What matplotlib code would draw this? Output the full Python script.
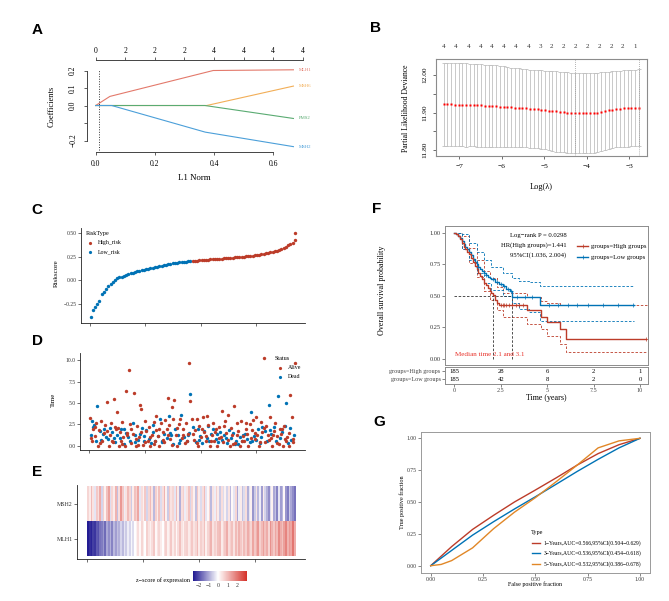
import numpy as np
import matplotlib
matplotlib.use('Agg')
import matplotlib.pyplot as plt
from matplotlib.colors import LinearSegmentedColormap, Normalize
from matplotlib.lines import Line2D

plt.rcParams['font.family'] = ['Liberation Serif', 'DejaVu Serif']

W, H = 669, 601
RED, BLUE, ORANGE = '#BC3C29', '#0072B5', '#E18727'

# ---------------- A: lasso coefficient paths
genes_A = ['MLH1', 'MSH6', 'PMS2', 'MSH2']
l1_paths = [[0, 0.048, 0.397, 0.668],
            [0, 0.375, 0.668],
            [0, 0.369, 0.668],
            [0, 0.054, 0.370, 0.668]]
coef_paths = [[0, 0.052, 0.200, 0.204],
              [0, 0.0, 0.111],
              [0, 0.0, -0.074],
              [0, 0.0, -0.152, -0.235]]
path_cols = ['#E3796B', '#F2AE57', '#5AAB72', '#4B9FD9']
top_l1 = [0, 0.1, 0.2, 0.3, 0.4, 0.5, 0.6, 0.7]
top_df = ['0', '2', '2', '2', '4', '4', '4', '4']

# ---------------- B: cross-validation curve
log_lambda = [-7.37, -7.28, -7.19, -7.11, -7.02, -6.93, -6.84, -6.75, -6.66, -6.58,
              -6.49, -6.40, -6.31, -6.22, -6.13, -6.05, -5.96, -5.87, -5.78, -5.69,
              -5.60, -5.52, -5.43, -5.34, -5.25, -5.16, -5.07, -4.99, -4.90, -4.81,
              -4.72, -4.63, -4.54, -4.46, -4.37, -4.28, -4.19, -4.10, -4.01, -3.93,
              -3.84, -3.75, -3.66, -3.57, -3.48, -3.40, -3.31, -3.22, -3.13, -3.04,
              -2.95, -2.87, -2.78]
dev_mean = [11.922, 11.922, 11.922, 11.921, 11.921, 11.921, 11.920, 11.920, 11.920, 11.919,
            11.919, 11.918, 11.918, 11.917, 11.917, 11.916, 11.916, 11.915, 11.914, 11.913,
            11.913, 11.912, 11.911, 11.910, 11.910, 11.909, 11.908, 11.907, 11.905, 11.904,
            11.903, 11.902, 11.901, 11.900, 11.899, 11.899, 11.898, 11.898, 11.898, 11.898,
            11.899, 11.900, 11.902, 11.904, 11.906, 11.908, 11.909, 11.910, 11.911, 11.911,
            11.912, 11.912, 11.913]
dev_se = [0.111, 0.111, 0.111, 0.111, 0.111, 0.111, 0.111, 0.110, 0.110, 0.110,
          0.110, 0.110, 0.109, 0.109, 0.109, 0.108, 0.108, 0.107, 0.106, 0.106,
          0.105, 0.105, 0.104, 0.104, 0.104, 0.104, 0.105, 0.105, 0.106, 0.106,
          0.107, 0.107, 0.107, 0.107, 0.107, 0.107, 0.107, 0.107, 0.107, 0.107,
          0.106, 0.106, 0.105, 0.104, 0.103, 0.102, 0.102, 0.102, 0.102, 0.102,
          0.102, 0.102, 0.102]
lambda_min, lambda_1se = -4.27, -2.78
top_lambda = [-7.36, -7.08, -6.79, -6.51, -6.23, -5.96, -5.67, -5.38, -5.10, -4.83,
              -4.54, -4.26, -3.99, -3.71, -3.42, -3.15, -2.87]
top_nz = ['4', '4', '4', '4', '4', '4', '4', '4', '3', '2', '2', '2', '2', '2', '2', '2', '1']

# ---------------- C: sorted risk score
risk_rank = list(range(1, 370, 4)) + [370]
risk_score = [-0.392, -0.310, -0.285, -0.255, -0.215, -0.150, -0.120, -0.095, -0.062, -0.038,
              -0.015, 0.005, 0.022, 0.032, 0.040, 0.050, 0.058, 0.066, 0.074, 0.080,
              0.087, 0.094, 0.101, 0.107, 0.113, 0.119, 0.124, 0.129, 0.134, 0.139,
              0.144, 0.149, 0.155, 0.160, 0.166, 0.171, 0.175, 0.179, 0.183, 0.187,
              0.190, 0.193, 0.196, 0.199, 0.201, 0.203, 0.205, 0.207, 0.209, 0.211,
              0.213, 0.215, 0.217, 0.219, 0.221, 0.223, 0.225, 0.227, 0.229, 0.231,
              0.233, 0.235, 0.237, 0.239, 0.241, 0.243, 0.245, 0.247, 0.250, 0.252,
              0.254, 0.256, 0.259, 0.262, 0.265, 0.268, 0.272, 0.276, 0.280, 0.285,
              0.290, 0.296, 0.301, 0.307, 0.314, 0.322, 0.332, 0.342, 0.355, 0.370,
              0.385, 0.400, 0.430, 0.505]
high_from = 185

# ---------------- D: survival time and status
alive_rank = [2, 5, 8, 10, 13, 16, 18, 21, 24, 27,
              29, 32, 35, 37, 40, 43, 45, 48, 51, 53,
              56, 59, 61, 64, 66, 69, 71, 73, 76, 78,
              81, 84, 86, 89, 92, 94, 97, 100, 102, 105,
              108, 110, 113, 116, 118, 121, 124, 126, 129, 132,
              134, 137, 140, 142, 145, 148, 150, 153, 156, 158,
              161, 164, 166, 169, 172, 174, 177, 180, 182, 185,
              188, 190, 193, 196, 198, 201, 204, 206, 209, 212,
              214, 217, 220, 222, 225, 228, 230, 233, 236, 238,
              241, 244, 246, 249, 252, 254, 257, 260, 262, 265,
              268, 270, 273, 276, 278, 281, 284, 286, 289, 292,
              294, 297, 300, 302, 305, 308, 310, 313, 316, 318,
              321, 324, 326, 329, 332, 334, 337, 340, 342, 345,
              348, 350, 353, 356, 358, 361, 364, 366, 369,
              4, 11, 20, 33, 41, 52, 60, 68, 75, 85,
              93, 101, 109, 117, 125, 133, 141, 149, 157, 168,
              176, 186, 194, 202, 210, 218, 226, 234, 242, 250,
              258, 266, 274, 282, 290, 298, 306, 314, 322, 330,
              338, 346, 352, 359, 365, 46, 57, 88, 120, 144]
alive_time = [3.2, 0.5, 2.0, 1.1, 2.6, 0.0, 1.8, 2.9, 0.6, 1.5,
              2.4, 5.1, 0.0, 1.3, 2.7, 0.4, 5.4, 1.9, 3.9, 0.0,
              1.6, 2.8, 1.0, 0.0, 6.4, 1.2, 8.8, 2.5, 0.3, 1.4,
              6.2, 0.0, 2.3, 1.0, 4.8, 4.3, 0.1, 2.9, 1.7, 0.6,
              2.2, 0.0, 1.3, 2.8, 0.5, 3.5, 1.1, 0.0, 2.6, 1.6,
              0.4, 3.0, 2.0, 5.6, 0.8, 4.5, 3.1, 5.3, 1.2, 0.0,
              2.5, 3.1, 0.9, 1.9, 0.3, 2.7, 1.4, 9.7, 5.2, 3.1,
              0.7, 1.8, 3.1, 0.0, 2.3, 1.0, 3.3, 1.6, 0.5, 3.5,
              2.4, 0.0, 1.3, 2.7, 0.6, 1.9, 0.0, 2.2, 1.0, 4.1,
              0.4, 2.9, 1.5, 3.6, 0.0, 2.1, 1.2, 4.6, 0.3, 2.6,
              1.7, 0.0, 2.9, 1.1, 0.6, 2.0, 1.4, 0.0, 2.5, 1.8,
              3.0, 0.8, 3.4, 1.2, 0.0, 2.8, 1.6, 10.2, 0.4, 2.3,
              1.3, 3.3, 0.9, 0.0, 1.7, 2.6, 1.1, 0.2, 2.0, 1.4,
              0.0, 2.3, 0.6, 1.0, 0.0, 5.9, 3.3, 0.8, 9.7,
              0.9, 2.2, 0.3, 1.7, 0.6, 2.1, 0.2, 1.5, 2.0, 0.8,
              1.6, 0.4, 1.0, 0.2, 1.9, 0.7, 1.3, 0.1, 2.1, 1.2,
              0.6, 1.4, 0.3, 2.0, 1.1, 0.5, 1.6, 0.9, 2.3, 0.7,
              0.2, 1.3, 0.5, 2.7, 0.9, 1.5, 0.4, 2.1, 0.7, 1.2,
              0.3, 1.9, 0.8, 1.5, 0.4, 2.2, 0.6, 0.1, 1.8, 2.4]
dead_rank = [3, 6, 9, 12, 15, 19, 22, 26, 30, 34,
             38, 42, 47, 50, 55, 58, 62, 67, 70, 74,
             79, 83, 87, 91, 95, 99, 103, 107, 111, 115,
             119, 123, 127, 131, 135, 139, 143, 147, 151, 155,
             159, 163, 165, 171, 175, 179, 181, 187, 191, 195,
             199, 203, 207, 211, 215, 219, 223, 227, 231, 235,
             239, 243, 247, 251, 255, 259, 263, 267, 271, 275,
             280, 283, 288, 291, 296, 299, 303, 307, 311, 315,
             319, 323, 327, 331, 336, 339, 343, 347, 351, 354,
             357, 360, 363, 367,
             7, 25, 44, 63, 82, 98, 114, 130, 146, 162,
             178, 197, 213, 229, 245, 261, 277, 293, 309, 325]
dead_time = [1.3, 2.9, 2.4, 0.6, 4.6, 1.7, 0.7, 2.0, 1.0, 0.8,
             2.1, 1.6, 0.4, 1.2, 0.9, 1.9, 0.2, 1.5, 1.0, 0.6,
             2.6, 1.3, 0.7, 1.4, 2.1, 0.5, 1.8, 0.8, 0.3, 1.6,
             0.6, 1.1, 3.1, 0.4, 1.4, 0.9, 3.5, 1.2, 0.2, 2.0,
             1.3, 0.7, 3.6, 1.0, 0.5, 1.5, 6.0, 2.2, 0.4, 1.9,
             1.1, 0.3, 1.7, 0.9, 0.6, 1.4, 2.0, 0.8, 0.4, 1.6,
             0.7, 1.2, 0.3, 1.8, 0.9, 1.5, 0.5, 0.2, 1.0, 0.6,
             1.4, 0.8, 0.4, 3.9, 1.1, 0.7, 1.9, 0.3, 2.2, 1.7,
             0.6, 4.8, 1.4, 2.2, 0.5, 5.8, 0.9, 1.6, 2.3, 5.0,
             0.3, 2.1, 0.7, 1.2,
             2.2, 1.4, 0.9, 2.0, 0.4, 1.1, 2.4, 0.6, 1.5, 0.3,
             1.2, 0.7, 2.3, 1.4, 0.9, 0.2, 1.3, 0.6, 1.0, 1.8]

# ---------------- E: expression heatmap (z-scores, patients in risk order)
heat_genes = ['MLH1', 'MSH2']
mlh1_z = [-2.6, -2.4, -2.5, -2.2, -2.3, -1.9, -2.0, -1.6,
          -1.5, -1.2, -1.7, -1.0, -1.3, -0.9, -1.4, -0.8, -1.1, -0.7,
          -0.9, -0.5, -0.8, -0.3, -0.6, -0.2, -0.5, -0.1, -0.4, 0.0,
          0.2, 0.5, 0.1, 0.6, 0.3, 0.0, 0.7, 0.4, 0.2, 0.5, 0.8, 0.1,
          0.4, 0.6, 0.3, 0.0, 0.5, 0.7, 0.2, 0.4, 0.8, 0.3, 0.6, 0.1,
          0.5, 0.9, 0.4, 0.2, 0.6, 0.7, 0.3, 0.5,
          0.8, 0.4, 0.6, 1.0, 0.3, 0.7, 0.5, 0.9, 0.2, 0.6, 0.8, 1.1,
          0.4, 0.7, 0.5, 0.9, 1.0, 0.3, 0.6, 0.8, 1.2, 0.5, 0.7, 0.9,
          0.4, 1.0, 0.6, 1.1, 0.8, 0.5,
          1.0, 0.7, 1.2, 0.9, 0.6, 1.3, 0.8, 1.1, 1.5, 0.7, 1.0, 1.4,
          0.9, 1.2, 0.6, 1.6, 1.1, 0.8, 1.3, 1.0, 1.7, 1.2, 0.9, 1.4,
          1.8, 1.1, 1.5, 1.3, 2.0, 1.2]
msh2_z = [0.6, 0.3, 1.0, 0.4, -0.3, 0.8, 0.5, 1.2, -0.5, 0.7,
          0.2, 0.9, 1.4, -0.4, 0.6, 0.3, 1.1, -0.7, 0.5, 1.5,
          0.8, -0.2, 0.4, 1.0, 0.6, -0.6, 0.3, 0.9, 0.7, 1.3,
          -0.3, 0.5, 0.2, 0.8, -0.5, 0.6, 1.0, 0.4, -0.8, 0.7,
          0.3, 0.9, -0.4, 0.5, 1.1, 0.2, -0.6, 0.8, 0.4, 0.6,
          -0.3, 1.0, 0.3, -0.9, 0.5, 0.7, -0.2, 0.4, 0.9, -0.5,
          0.6, 0.2, -0.7, 0.8, 0.3, -0.4, 0.5, 1.0, -0.3, 0.1,
          0.6, -0.8, 0.4, -0.2, 0.7, 0.3, -0.6, 0.5, -0.4, 0.2,
          -0.5, 0.4, -0.8, 0.1, -0.3, 0.6, -1.0, -0.2, 0.3, -0.7,
          -0.4, 0.5, -0.9, -0.3, 0.2, -1.2, -0.6, 0.4, -0.8, -0.2,
          -1.1, 0.3, -0.5, -0.9, -1.3, -0.4, 0.2, -1.0, -0.7, -1.4,
          -0.3, -1.1, -0.8, 0.1, -1.2, -1.5, -0.6, -1.0, -1.3, -1.6]

# ---------------- F: Kaplan-Meier
high_t = [0, 0.1, 0.2, 0.3, 0.4, 0.5, 0.6, 0.7, 0.8, 0.9, 1.0, 1.1, 1.2, 1.3, 1.4, 1.5,
          1.6, 1.7, 1.8, 1.9, 2.0, 2.1, 2.2, 2.3, 2.4, 3.9, 4.65, 5.0, 5.7, 6.0, 10.3]
high_s = [1.0, 0.99, 0.97, 0.95, 0.92, 0.89, 0.87, 0.85, 0.83, 0.80, 0.77, 0.74, 0.71, 0.68,
          0.655, 0.63, 0.605, 0.585, 0.56, 0.54, 0.52, 0.505, 0.47, 0.44, 0.425, 0.385,
          0.335, 0.29, 0.235, 0.155, 0.155]
high_ci_t = [0, 0.4, 0.8, 1.2, 1.6, 1.9, 2.3, 2.6, 3.9, 4.65, 5.0, 5.7, 6.0, 10.45]
high_up = [1.0, 0.97, 0.88, 0.78, 0.70, 0.64, 0.57, 0.525, 0.49, 0.46, 0.44, 0.43, 0.43, 0.43]
high_lo = [1.0, 0.87, 0.76, 0.65, 0.54, 0.47, 0.39, 0.335, 0.28, 0.24, 0.18, 0.12, 0.057, 0.057]
low_t = [0, 0.1, 0.2, 0.3, 0.4, 0.5, 0.6, 0.7, 0.8, 0.9, 1.0, 1.1, 1.2, 1.3, 1.4, 1.5, 1.6,
         1.7, 1.8, 1.9, 2.0, 2.2, 2.4, 2.6, 2.8, 3.0, 3.1, 4.6, 9.7]
low_s = [1.0, 0.99, 0.975, 0.955, 0.935, 0.91, 0.89, 0.87, 0.845, 0.82, 0.795, 0.77, 0.75,
         0.73, 0.71, 0.695, 0.68, 0.665, 0.65, 0.64, 0.63, 0.61, 0.595, 0.575, 0.555, 0.535,
         0.495, 0.425, 0.425]
low_ci_t = [0, 0.4, 0.8, 1.2, 1.6, 2.0, 2.6, 3.1, 3.5, 4.0, 4.6, 9.7]
low_up = [1.0, 0.99, 0.92, 0.85, 0.78, 0.73, 0.68, 0.64, 0.62, 0.61, 0.58, 0.58]
low_lo = [1.0, 0.87, 0.78, 0.68, 0.60, 0.55, 0.50, 0.44, 0.40, 0.37, 0.305, 0.305]
high_cens_t = [2.5, 2.6, 2.7, 2.8, 2.95, 3.1, 3.3, 3.5, 3.7, 10.3]
high_cens_s = [0.425, 0.425, 0.425, 0.425, 0.425, 0.425, 0.425, 0.425, 0.425, 0.155]
low_cens_t = [1.3, 1.7, 2.1, 2.3, 2.5, 2.7, 2.9, 3.05, 3.4, 3.8, 4.2, 5.1, 5.6, 6.1, 6.6,
              7.2, 8.0, 8.8, 9.6]
low_cens_s = [0.73, 0.665, 0.63, 0.61, 0.595, 0.575, 0.555, 0.535, 0.495, 0.495, 0.495,
              0.425, 0.425, 0.425, 0.425, 0.425, 0.425, 0.425, 0.425]
median_high, median_low = 2.1, 3.1
table_times = [0, 2.5, 5, 7.5, 10]
at_risk_high = [185, 28, 6, 2, 1]
at_risk_low = [185, 42, 8, 2, 0]

# ---------------- G: time-dependent ROC
roc_fpr = [0, 0.1, 0.2, 0.3, 0.4, 0.5, 0.6, 0.7, 0.8, 0.9, 1.0]
tpr_1y = [0, 0.15, 0.285, 0.395, 0.50, 0.594, 0.69, 0.79, 0.88, 0.95, 1.0]
tpr_3y = [0, 0.12, 0.24, 0.345, 0.445, 0.541, 0.64, 0.74, 0.835, 0.925, 1.0]
roc_fpr_5y = [0, 0.05, 0.1, 0.2, 0.3, 0.4, 0.5, 0.6, 0.7, 0.8, 0.9, 1.0]
tpr_5y = [0, 0.01, 0.04, 0.14, 0.29, 0.42, 0.534, 0.66, 0.79, 0.925, 0.98, 1.0]
roc_labels = ['1\u2212Years,AUC=0.566,95%CI(0.504\u22120.629)',
              '3\u2212Years,AUC=0.536,95%CI(0.454\u22120.618)',
              '5\u2212Years,AUC=0.532,95%CI(0.386\u22120.678)']

fig = plt.figure(figsize=(W / 100, H / 100), dpi=100)


def box(l, t, r, b):
    return [l / W, 1 - b / H, (r - l) / W, (b - t) / H]


def ftxt(x, y, s, **kw):
    kw.setdefault('ha', 'center')
    kw.setdefault('va', 'center')
    fig.text(x / W, 1 - y / H, s, **kw)


def fline(x0, x1, y, **kw):
    fig.add_artist(Line2D([x0 / W, x1 / W], [1 - y / H, 1 - y / H], **kw))


def fdot(x, y, c, **kw):
    fig.add_artist(Line2D([x / W], [1 - y / H], marker='o', color=c, ms=2.3, mec='none', **kw))


def gg_axes(ax, fs=4.1):
    for s in ['top', 'right']:
        ax.spines[s].set_visible(False)
    for s in ['left', 'bottom']:
        ax.spines[s].set_linewidth(0.6)
        ax.spines[s].set_color('#222222')
    ax.tick_params(length=2, width=0.5, color='#333333', labelsize=fs, pad=1.2,
                   labelcolor='#333333')


# panel letters
for lab, x, y in [('A', 31.7, 30), ('B', 370, 27.5), ('C', 31.7, 210), ('D', 31.7, 340.5),
                  ('E', 31.7, 472.5), ('F', 371.7, 209), ('G', 373.3, 421.5)]:
    ftxt(x, y, lab, ha='left', fontsize=11, fontweight='bold', family='Liberation Sans')

# ---------------- A
ax = fig.add_axes(box(86.8, 60, 302.9, 151.9))
for xs, ys, c, g in zip(l1_paths, coef_paths, path_cols, genes_A):
    ax.plot(xs, ys, color=c, lw=0.8)
    ax.text(xs[-1] + 0.018, ys[-1], g, color=c, fontsize=3.4, va='center')
ax.vlines(0.012, -0.255, 0.205, colors='#333333', linestyles=(0, (1, 1.6)), lw=0.7)
ax.set_xlim(-0.03, 0.70)
ax.set_ylim(-0.265, 0.26)
ax.patch.set_visible(False)
for s in ['right', 'top']:
    ax.spines[s].set_visible(False)
for s in ['left', 'bottom']:
    ax.spines[s].set_color('#444444')
    ax.spines[s].set_linewidth(0.7)
ax.spines['left'].set_bounds(-0.2, 0.2)
ax.spines['bottom'].set_bounds(0, 0.6)
ax.set_xticks([0, 0.2, 0.4, 0.6])
ax.set_xticklabels(['0.0', '0.2', '0.4', '0.6'])
ax.set_yticks([-0.2, -0.1, 0, 0.1, 0.2])
ax.set_yticklabels(['\u22120.2', '', '0.0', '0.1', '0.2'], rotation=90, va='center')
ax.tick_params(axis='x', length=2.4, width=0.6, color='#444444', labelsize=5.5, pad=3.5)
ax.tick_params(axis='y', length=2.4, width=0.6, color='#444444', labelsize=5.5, pad=4.5)
tw = ax.twiny()
tw.set_xlim(ax.get_xlim())
for s in ['left', 'right', 'bottom']:
    tw.spines[s].set_visible(False)
tw.spines['top'].set_bounds(0, 0.7)
tw.spines['top'].set_color('#444444')
tw.spines['top'].set_linewidth(0.7)
tw.set_xticks(top_l1)
tw.set_xticklabels(top_df)
tw.tick_params(axis='x', length=2.4, width=0.6, color='#444444', labelsize=5.5, pad=1.5)
ftxt(194, 178, 'L1 Norm', fontsize=6.3)
ftxt(52, 106, 'Coefficients', rotation=90, fontsize=6.0)

# ---------------- B
ax = fig.add_axes(box(436, 59.3, 646.7, 156))
ax.errorbar(log_lambda, dev_mean, yerr=dev_se, fmt='none', ecolor='#B4B4B4',
            elinewidth=0.5, capsize=1.5, capthick=0.5)
ax.plot(log_lambda, dev_mean, 's', color='#FF0000', ms=1.8, mec='none')
for v in [lambda_min, lambda_1se]:
    ax.axvline(v, color='#9A9A9A', ls=(0, (1, 1.5)), lw=0.6)
ax.set_xlim(-7.55, -2.59)
ax.set_ylim(11.784, 12.042)
for s in ax.spines.values():
    s.set_color('#8C8C8C')
    s.set_linewidth(0.8)
ax.set_xticks([-7, -6, -5, -4, -3])
ax.set_xticklabels(['\u22127', '\u22126', '\u22125', '\u22124', '\u22123'])
ax.set_yticks([11.80, 11.85, 11.90, 11.95, 12.00])
ax.set_yticklabels(['11.80', '', '11.90', '', '12.00'], rotation=90, va='center')
ax.tick_params(length=2.4, width=0.6, color='#555555', labelsize=5.3, pad=3)
ax.tick_params(axis='y', pad=4)
for x, lab in zip(top_lambda, top_nz):
    ax.text(x, 1.13, lab, transform=ax.get_xaxis_transform(), ha='center', va='center',
            fontsize=5.0, color='#333333')
ftxt(541.7, 186.7, 'Log(\u03bb)', fontsize=6.0)
ftxt(406, 108, 'Partial Likelihood Deviance', rotation=90, fontsize=5.6)

# ---------------- C
ax = fig.add_axes(box(81, 228.3, 305, 322.7))
rank = np.array(risk_rank)
score = np.array(risk_score)
hi = rank >= high_from
ax.scatter(rank[~hi], score[~hi], s=6, color=BLUE, linewidths=0)
ax.scatter(rank[hi], score[hi], s=6, color=RED, linewidths=0)
ax.set_xlim(-16.2, 387.4)
ax.set_ylim(-0.449, 0.551)
ax.set_xticks([0, 100, 200, 300])
ax.set_xticklabels([])
ax.set_yticks([-0.25, 0, 0.25, 0.5])
ax.set_yticklabels(['\u22120.25', '0.00', '0.25', '0.50'])
gg_axes(ax)
ftxt(56.7, 273, 'Riskscore', rotation=90, fontsize=5.0)
ftxt(86, 233.3, 'RiskType', ha='left', fontsize=4.4)
fdot(90, 242.7, RED)
fdot(90, 251.7, BLUE)
ftxt(98.3, 242.7, 'High_risk', ha='left', fontsize=4.2)
ftxt(98.3, 251.7, 'Low_risk', ha='left', fontsize=4.2)

# ---------------- D
ax = fig.add_axes(box(80, 353, 305, 450))
ax.scatter(dead_rank, dead_time, s=6, color=BLUE, linewidths=0)
ax.scatter(alive_rank, alive_time, s=6, color=RED, linewidths=0)
ax.set_xlim(-16.2, 387.4)
ax.set_ylim(-0.5, 10.83)
ax.set_xticks([0, 100, 200, 300])
ax.set_xticklabels([])
ax.set_yticks([0, 2.5, 5, 7.5, 10])
ax.set_yticklabels(['0.0', '2.5', '5.0', '7.5', '10.0'])
gg_axes(ax)
ftxt(53.3, 400, 'Time', rotation=90, fontsize=5.0)
ftxt(275, 359, 'Status', ha='left', fontsize=4.4)
fdot(280, 367.7, RED)
fdot(280, 376.7, BLUE)
ftxt(288.3, 367.7, 'Alive', ha='left', fontsize=4.2)
ftxt(288.3, 376.7, 'Dead', ha='left', fontsize=4.2)

# ---------------- E
ax = fig.add_axes(box(77.3, 485, 305, 559.3))
z = np.array([mlh1_z, msh2_z])
edges = np.linspace(0, 372, len(mlh1_z) + 1)
zcmap = LinearSegmentedColormap.from_list(
    'zs', [(0, '#231C93'), (0.464, '#FFFFFF'), (1, '#D5332B')])
znorm = Normalize(-2.6, 3.0)
mesh = ax.pcolormesh(edges, [0, 1, 2], z, cmap=zcmap, norm=znorm)
ax.set_xlim(-17.5, 388.8)
ax.set_ylim(-0.094, 2.029)
ax.set_xticks([0, 100, 200, 300])
ax.set_xticklabels([])
ax.set_yticks([0.5, 1.5])
ax.set_yticklabels(heat_genes)
gg_axes(ax, fs=4.3)
cax = fig.add_axes(box(193.3, 570.7, 246.7, 581))
cb = fig.colorbar(mesh, cax=cax, orientation='horizontal')
cb.outline.set_visible(False)
cb.set_ticks([-2, -1, 0, 1, 2])
cb.set_ticklabels(['\u22122', '\u22121', '0', '1', '2'])
cax.tick_params(length=0, labelsize=4.2, pad=1.5, labelcolor='#333333')
ftxt(190, 580, 'z\u2212score of expression', ha='right', fontsize=4.4)

# ---------------- F
ax = fig.add_axes(box(445, 226, 648.3, 365))
dash = (0, (3, 2))
ax.step(high_ci_t, high_up, where='post', color=RED, lw=0.6, ls=dash)
ax.step(high_ci_t, high_lo, where='post', color=RED, lw=0.6, ls=dash)
ax.step(low_ci_t, low_up, where='post', color=BLUE, lw=0.6, ls=dash)
ax.step(low_ci_t, low_lo, where='post', color=BLUE, lw=0.6, ls=dash)
ax.hlines(0.5, 0, median_low, colors='#333333', linestyles=dash, lw=0.6)
ax.vlines([median_high, median_low], 0, 0.5, colors='#333333', linestyles=dash, lw=0.6)
ax.step(low_t, low_s, where='post', color=BLUE, lw=1.0)
ax.step(high_t, high_s, where='post', color=RED, lw=1.0)
ax.plot(low_cens_t, low_cens_s, '+', color=BLUE, ms=3, mew=0.5)
ax.plot(high_cens_t, high_cens_s, '+', color=RED, ms=3, mew=0.5)
ax.set_xlim(-0.5, 10.45)
ax.set_ylim(-0.047, 1.053)
ax.set_xticks(table_times)
ax.set_xticklabels([])
ax.set_yticks([0, 0.25, 0.5, 0.75, 1.0])
ax.set_yticklabels(['0.00', '0.25', '0.50', '0.75', '1.00'])
for s in ax.spines.values():
    s.set_color('#8C8C8C')
    s.set_linewidth(0.7)
ax.tick_params(length=2, width=0.5, color='#555555', labelsize=4.6, pad=1.2,
               labelcolor='#333333')
ax.tick_params(axis='x', length=0)
ax.text(566.5 / W, 1 - 235 / H, 'Log\u2212rank P = 0.0298', transform=fig.transFigure,
        ha='right', va='center', fontsize=4.8)
ax.text(566.5 / W, 1 - 245 / H, 'HR(High groups)=1.441', transform=fig.transFigure,
        ha='right', va='center', fontsize=4.8)
ax.text(566.5 / W, 1 - 255 / H, '95%CI(1.036, 2.004)', transform=fig.transFigure,
        ha='right', va='center', fontsize=4.8)
ax.text(0.05, 0.02, 'Median time 2.1 and 3.1', color='#E8322A', fontsize=5.1,
        ha='left', va='bottom')
fline(576.7, 588.3, 246, color=RED, lw=1.0)
fline(576.7, 588.3, 257.3, color=BLUE, lw=1.0)
fig.add_artist(Line2D([582.5 / W], [1 - 246 / H], marker='+', color=RED, ms=3, mew=0.5))
fig.add_artist(Line2D([582.5 / W], [1 - 257.3 / H], marker='+', color=BLUE, ms=3, mew=0.5))
ftxt(590.7, 246, 'groups=High groups', ha='left', fontsize=4.8)
ftxt(590.7, 257.3, 'groups=Low groups', ha='left', fontsize=4.8)
ftxt(381.7, 290, 'Overall survival probability', rotation=90, fontsize=5.8)

tb = fig.add_axes(box(445, 366.7, 648.3, 384))
tb.set_xlim(-0.5, 10.45)
tb.set_ylim(0, 2)
for t, a, b in zip(table_times, at_risk_high, at_risk_low):
    tb.text(t, 1.45, str(a), ha='center', va='center', fontsize=4.8)
    tb.text(t, 0.55, str(b), ha='center', va='center', fontsize=4.8)
tb.set_yticks([1.45, 0.55])
tb.set_yticklabels(['groups=High groups', 'groups=Low groups'])
tb.set_xticks(table_times)
tb.set_xticklabels(['0', '2.5', '5', '7.5', '10'])
for s in tb.spines.values():
    s.set_color('#8C8C8C')
    s.set_linewidth(0.7)
tb.tick_params(length=2, width=0.5, color='#555555', labelsize=4.4, pad=1.2,
               labelcolor='#444444')
ftxt(546.7, 398.3, 'Time (years)', fontsize=5.8)

# ---------------- G
ax = fig.add_axes(box(420.7, 431.7, 650, 572.7))
ax.plot(roc_fpr, tpr_1y, color=RED, lw=1.0)
ax.plot(roc_fpr, tpr_3y, color=BLUE, lw=1.0)
ax.plot(roc_fpr_5y, tpr_5y, color=ORANGE, lw=1.0)
ax.set_xlim(-0.048, 1.048)
ax.set_ylim(-0.055, 1.052)
ticks = [0, 0.25, 0.5, 0.75, 1.0]
ax.set_xticks(ticks)
ax.set_yticks(ticks)
ax.set_xticklabels(['0.00', '0.25', '0.50', '0.75', '1.00'])
ax.set_yticklabels(['0.00', '0.25', '0.50', '0.75', '1.00'])
for s in ax.spines.values():
    s.set_color('#9A9A9A')
    s.set_linewidth(0.7)
ax.tick_params(length=2, width=0.5, color='#555555', labelsize=4.1, pad=1.2,
               labelcolor='#333333')
ftxt(535, 584, 'False positive fraction', fontsize=4.3)
ftxt(401.7, 502, 'True positive fraction', rotation=90, fontsize=4.4)
ftxt(531, 532.7, 'Type', ha='left', fontsize=4.5)
for y, c, lab in zip([543.3, 553.3, 564], [RED, BLUE, ORANGE], roc_labels):
    fline(531.7, 540, y, color=c, lw=1.0)
    ftxt(543.3, y, lab, ha='left', fontsize=4.1)

fig.savefig('out.png', dpi=100)
